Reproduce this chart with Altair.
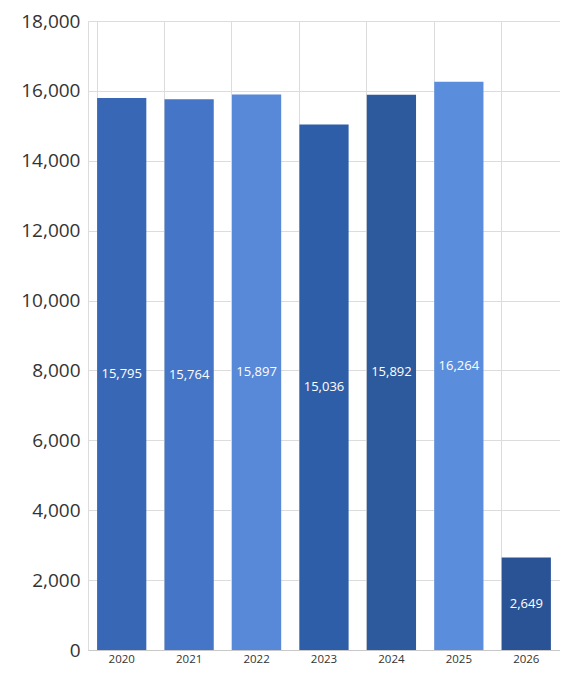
import altair as alt
import pandas as pd

years = ["2020", "2021", "2022", "2023", "2024", "2025", "2026"]
values = [15795, 15764, 15897, 15036, 15892, 16264, 2649]
colors = ["#3868b5", "#4575c6", "#5888d8", "#2f5ea8", "#2c5a9d", "#5b8ddd", "#2a5396"]

df = pd.DataFrame({"year": years, "value": values, "color": colors})
df["half"] = df["value"] / 2
df["label"] = df["value"].map(lambda v: f"{v:,}")

base = alt.Chart(df)

bars = base.mark_bar().encode(
    x=alt.X("year:N", sort=years, title=None,
            scale=alt.Scale(paddingInner=0.27, paddingOuter=0.135),
            axis=alt.Axis(labelAngle=0, labelFontSize=11.5, labelColor="#333333",
                          grid=True, bandPosition=0, gridColor="#dcdcdc",
                          ticks=False, domainColor="#c8c8c8", labelPadding=3,
                          labelFont="Open Sans")),
    y=alt.Y("value:Q", title=None,
            scale=alt.Scale(domain=[0, 18000], nice=False),
            axis=alt.Axis(values=list(range(0, 18001, 2000)), format=",.0f",
                          labelFontSize=19, labelColor="#333333", labelFont="Open Sans",
                          gridColor="#dcdcdc", ticks=False, domain=False,
                          labelPadding=8)),
    color=alt.Color("color:N", scale=None),
)

text = base.mark_text(color="white", fontSize=13, font="Open Sans").encode(
    x=alt.X("year:N", sort=years),
    y=alt.Y("half:Q"),
    text="label:N",
)

chart = (bars + text).properties(
    width=472, height=629,
    autosize=alt.AutoSizeParams(type="none"),
    padding={"left": 80, "top": 13, "right": 0, "bottom": 16},
).configure_view(stroke="#dcdcdc")

chart.save("out.html", embed_options={"renderer": "svg", "actions": False})
